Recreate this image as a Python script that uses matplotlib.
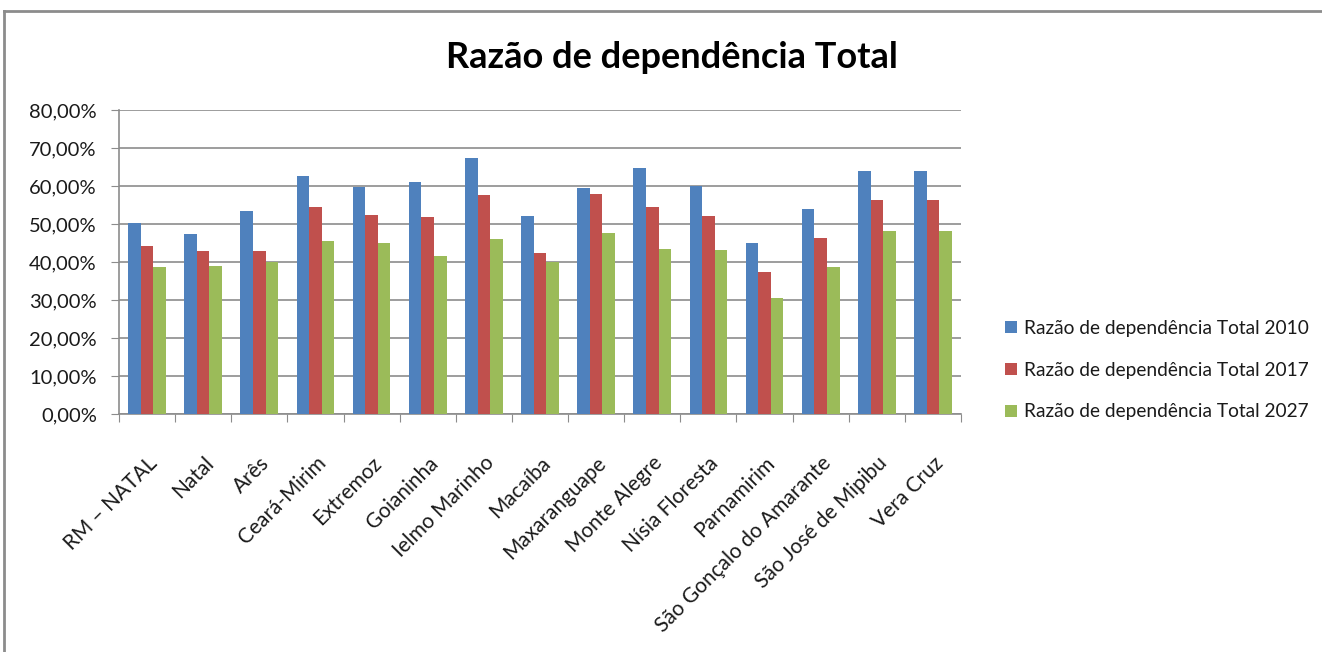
import matplotlib.pyplot as plt
import numpy as np
from matplotlib.lines import Line2D
from matplotlib.ticker import FuncFormatter

# Data
municipios = ["RM – NATAL", "Natal", "Arês", "Ceará-Mirim", "Extremoz", "Goianinha",
              "Ielmo Marinho", "Macaíba", "Maxaranguape", "Monte Alegre", "Nísia Floresta",
              "Parnamirim", "São Gonçalo do Amarante", "São José de Mipibu", "Vera Cruz"]
rd_2010 = [50.2, 47.3, 53.5, 62.6, 59.8, 61.0, 67.5, 52.0, 59.4, 64.8, 60.0, 44.9, 53.9, 63.9, 63.9]
rd_2017 = [44.3, 42.8, 42.8, 54.4, 52.5, 51.8, 57.6, 42.5, 57.9, 54.4, 52.0, 37.5, 46.4, 56.2, 56.2]
rd_2027 = [38.7, 39.0, 40.0, 45.4, 44.9, 41.7, 46.1, 40.1, 47.6, 43.4, 43.1, 30.6, 38.7, 48.2, 48.2]
series_labels = ["Razão de dependência Total 2010", "Razão de dependência Total 2017",
                 "Razão de dependência Total 2027"]
colors = ["#4F81BD", "#C0504D", "#9BBB59"]

plt.rcParams['font.family'] = ['Lato', 'DejaVu Sans']

fig = plt.figure(figsize=(13.22, 6.52), dpi=100)
ax = fig.add_axes([119 / 1322, 1 - 414 / 652, (961 - 119) / 1322, (414 - 110) / 652])

x = np.arange(len(municipios))
w = 0.224
for i, (vals, lab, c) in enumerate(zip([rd_2010, rd_2017, rd_2027], series_labels, colors)):
    ax.bar(x + (i - 1) * w, vals, width=w, color=c, label=lab, zorder=3)

ax.set_xlim(-0.5, len(municipios) - 0.5)
ax.set_ylim(0, 80)
ax.set_yticks(np.arange(0, 81, 10))
ax.yaxis.set_major_formatter(FuncFormatter(lambda v, p: f"{v:.2f}%".replace(".", ",")))
ax.grid(axis='y', color='#8C8C8C', linewidth=1.2, zorder=0)

ax.set_xticks(np.arange(-0.5, len(municipios), 1), minor=False)
ax.set_xticklabels([])
ax.set_xticks(x, minor=True)
ax.set_xticklabels(municipios, minor=True, rotation=45, ha='right', rotation_mode='anchor',
                   fontsize=15, color='#1a1a1a')
ax.tick_params(axis='x', which='major', length=6, color='#8C8C8C', direction='out')
ax.tick_params(axis='x', which='minor', length=0, pad=28)
ax.tick_params(axis='y', length=6, color='#8C8C8C', labelsize=14.5, labelcolor='#1a1a1a', pad=10)

for s in ['top', 'right']:
    ax.spines[s].set_visible(False)
for s in ['left', 'bottom']:
    ax.spines[s].set_color('#8C8C8C')
    ax.spines[s].set_linewidth(1.2)

fig.text(672 / 1322, 1 - 57 / 652, "Razão de dependência Total", ha='center', va='center',
         fontsize=26, fontweight='bold', color='black')

leg = ax.legend(loc='center left', bbox_to_anchor=(988 / 1322, 1 - 370 / 652),
                bbox_transform=fig.transFigure, frameon=False, fontsize=13.8,
                handlelength=0.6, handleheight=0.6, handletextpad=0.4, labelspacing=1.3)
for t in leg.get_texts():
    t.set_color('#1a1a1a')

# outer chart frame (only top and left edges visible in the reference)
fig.add_artist(Line2D([4 / 1322, 4 / 1322], [0, 1 - 11 / 652], transform=fig.transFigure,
                      color='#8C8C8C', linewidth=2))
fig.add_artist(Line2D([4 / 1322, 1], [1 - 11 / 652, 1 - 11 / 652], transform=fig.transFigure,
                      color='#8C8C8C', linewidth=2))

plt.savefig("out.png", dpi=100)
plt.close()
